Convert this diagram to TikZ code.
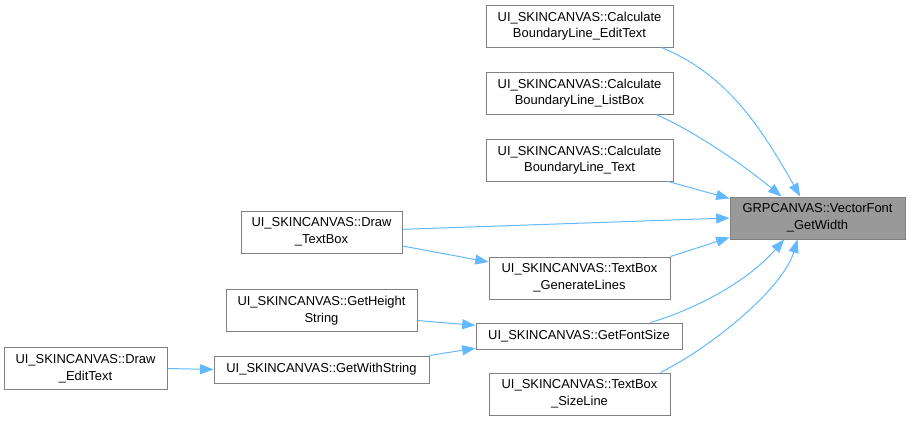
\documentclass[tikz,border=0pt]{standalone}
\usepackage{fontspec}
\setmainfont{Liberation Sans}
\usetikzlibrary{arrows.meta}

\definecolor{boxline}{HTML}{808080}
\definecolor{hitfill}{HTML}{999999}
\definecolor{calledge}{HTML}{63B8FF}

\begin{document}
\begin{tikzpicture}[x=0.75pt,y=-0.75pt,
   font=\fontsize{9.7}{12.4}\selectfont,
   fn/.style={draw=boxline,line width=0.75pt,fill=white,align=center,inner sep=0pt,minimum height=31.5pt},
   edge/.style={draw=calledge,line width=0.75pt,-{Triangle[length=10pt,width=7.5pt]}}]
  \useasboundingbox (0,0) rectangle (911,421);
  % pixel grid, y down; nodes placed at their centres

  % ---- callers of the width function, top column ----
  \node[fn,minimum width=140.25pt] (calcedit) at (579.5,26) {UI\_SKINCANVAS::Calculate\\BoundaryLine\_EditText};
  \node[fn,minimum width=140.25pt] (calclist) at (579.5,93) {UI\_SKINCANVAS::Calculate\\BoundaryLine\_ListBox};
  \node[fn,minimum width=140.25pt] (calctext) at (579.5,160) {UI\_SKINCANVAS::Calculate\\BoundaryLine\_Text};

  % ---- the function itself ----
  \node[fn,fill=hitfill,minimum width=131.25pt] (vfont) at (817.5,218) {GRPCANVAS::VectorFont\\\_GetWidth};

  % ---- middle column ----
  \node[fn,minimum width=120.75pt] (drawtb) at (321.5,232) {UI\_SKINCANVAS::Draw\\\_TextBox};
  \node[fn,minimum width=135.75pt] (genlines) at (579.5,278) {UI\_SKINCANVAS::TextBox\\\_GenerateLines};
  \node[fn,minimum width=143.25pt] (getheight) at (321.5,310.5) {UI\_SKINCANVAS::GetHeight\\String};
  \node[fn,minimum width=154.5pt,minimum height=19.5pt] (getfont) at (579,336) {UI\_SKINCANVAS::GetFontSize};
  \node[fn,minimum width=161.25pt,minimum height=20.25pt] (getwith) at (321.5,369.5) {UI\_SKINCANVAS::GetWithString};
  \node[fn,minimum width=135.75pt] (sizeline) at (579.5,394) {UI\_SKINCANVAS::TextBox\\\_SizeLine};
  \node[fn,minimum width=122.25pt] (drawedit) at (85.5,368.5) {UI\_SKINCANVAS::Draw\\\_EditText};

  % ---- call edges ----
  \draw[edge] ([xshift=-9pt]calcedit.south east) .. controls +(60,25) and +(-45,-80) .. ([xshift=-13pt]vfont.north);
  \draw[edge] ([xshift=-13pt]calclist.south east) .. controls +(45,20) and +(-30,-25) .. ([xshift=-27pt]vfont.north);
  \draw[edge] ([xshift=-4pt]calctext.south east) -- ([yshift=-1.5pt]vfont.north west);
  \draw[edge] ([yshift=2pt]drawtb.east) -- (vfont.west);
  \draw[edge] (genlines.north east) -- ([yshift=1.5pt]vfont.south west);
  \draw[edge] ([xshift=-24pt]getfont.north east) .. controls +(50,-15) and +(-35,40) .. ([xshift=-25pt]vfont.south);
  \draw[edge] ([xshift=-7.5pt]sizeline.north east) .. controls +(50,-25) and +(-15,50) .. ([xshift=-15pt]vfont.south);
  \draw[edge] ([yshift=-10.5pt]drawtb.east) -- ([yshift=12pt]genlines.west);
  \draw[edge] ([yshift=-7.5pt]getheight.east) -- ([yshift=8pt]getfont.west);
  \draw[edge] (getwith.north east) -- ([yshift=1pt]getfont.south west);
  \draw[edge] (drawedit.east) -- (getwith.west);
\end{tikzpicture}
\end{document}
